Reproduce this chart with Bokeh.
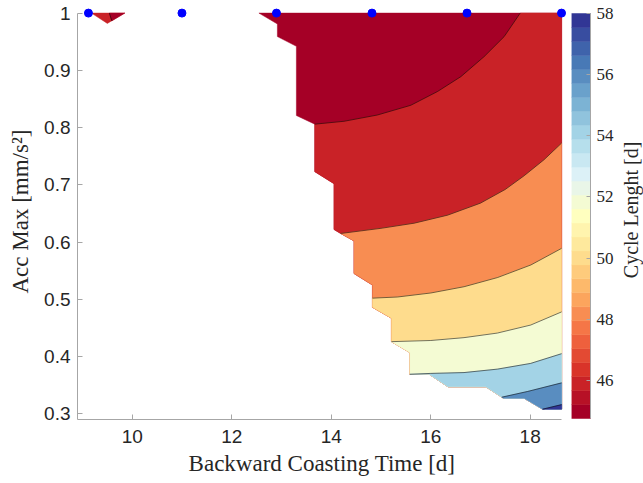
import numpy as np
from bokeh.plotting import figure
from bokeh.layouts import row
from bokeh.models import FixedTicker, Range1d, LinearAxis
from bokeh.core.properties import value
from bokeh.embed import file_html
from bokeh.resources import INLINE

# ---------------- data ----------------
# sampled backward-coasting times at Acc Max = 1 (blue markers)
marker_x = [9.12, 11.0, 12.9, 14.82, 16.73, 18.63]
marker_y = [1.0, 1.0, 1.0, 1.0, 1.0, 1.0]

# boundary of the feasible (filled) region, from top-left to bottom-right
bound_x = [12.547, 12.918, 12.918, 13.300, 13.300, 13.670, 13.670, 14.056, 14.056,
           14.190, 14.459, 14.459, 14.829, 14.829, 14.829, 15.211, 15.211, 15.580,
           15.580, 15.968, 16.350, 17.109, 17.430, 17.465, 17.879, 18.249, 18.632]
bound_y = [1.000, 0.981, 0.959, 0.942, 0.821, 0.806, 0.723, 0.702, 0.622,
           0.615, 0.602, 0.545, 0.525, 0.502, 0.486, 0.467, 0.426, 0.407,
           0.369, 0.369, 0.347, 0.347, 0.329, 0.327, 0.327, 0.308, 0.308]

# small feasible patch near the top-left
patch_x = [9.18, 9.85, 9.50]
patch_y = [1.000, 1.000, 0.982]
patch_c46_x = [9.54, 9.59]
patch_c46_y = [1.000, 0.9865]

# contour lines of Cycle Length (each starts on the boundary)
c46_x = [13.670, 14.258, 14.930, 15.600, 16.137, 16.606, 17.074, 17.477, 17.799]
c46_y = [0.806, 0.811, 0.822, 0.839, 0.863, 0.889, 0.924, 0.959, 1.000]
c48_x = [14.190, 15.000, 15.670, 16.340, 17.000, 17.500, 17.880, 18.280, 18.632]
c48_y = [0.615, 0.624, 0.633, 0.647, 0.668, 0.692, 0.716, 0.744, 0.773]
c50_x = [14.829, 15.332, 16.002, 16.672, 17.344, 18.014, 18.632]
c50_y = [0.502, 0.504, 0.511, 0.522, 0.538, 0.560, 0.589]
c52_x = [15.211, 16.000, 16.670, 17.340, 18.010, 18.632]
c52_y = [0.426, 0.428, 0.433, 0.441, 0.455, 0.478]
c54_x = [15.580, 16.000, 16.670, 17.340, 18.010, 18.632]
c54_y = [0.369, 0.3705, 0.372, 0.378, 0.388, 0.405]
c56_x = [17.430, 17.950, 18.632]
c56_y = [0.329, 0.339, 0.354]
c58_x = [18.249, 18.632]
c58_y = [0.308, 0.316]

levels = [46, 48, 50, 52, 54, 56, 58]
contours_x = [c46_x, c48_x, c50_x, c52_x, c54_x, c56_x, c58_x]
contours_y = [c46_y, c48_y, c50_y, c52_y, c54_y, c56_y, c58_y]

cbar_low, cbar_high = 44.75, 58.0
cbar_ticks = [46, 48, 50, 52, 54, 56, 58]
x_ticks = [10, 12, 14, 16, 18]
y_ticks = [0.3, 0.4, 0.5, 0.6, 0.7, 0.8, 0.9, 1.0]

# ---------------- colormap (RdYlBu, 29 steps) ----------------
anchors = ['#a50026', '#d73027', '#f46d43', '#fdae61', '#fee090', '#ffffbf',
           '#e0f3f8', '#abd9e9', '#74add1', '#4575b4', '#313695']
N = 29
anc = np.array([[int(h[i:i + 2], 16) for i in (1, 3, 5)] for h in anchors], float)
pos = np.linspace(0, 1, len(anchors))
tt = np.linspace(0, 1, N)
palette = ['#%02x%02x%02x' % tuple(int(round(np.interp(t, pos, anc[:, c]))) for c in range(3))
           for t in tt]


def level_color(v):
    i = int((v - cbar_low) / (cbar_high - cbar_low) * N)
    return palette[max(0, min(N - 1, i))]


base_color = palette[0]
axis_gray = "#a6a6a6"
text_col = "#262626"

# ---------------- layout constants (pixels) ----------------
TOP_B, BOT_B = 3, 64          # shared frame borders of both figures
FRAME_H = 483 - TOP_B - BOT_B
Y_PPU = 572.4                 # pixels per unit of Acc Max
CB_TOP_PAD, CB_BOT_PAD = 10, 1  # colorbar bar inset inside its frame
CB_PPU = (FRAME_H - CB_TOP_PAD - CB_BOT_PAD) / (cbar_high - cbar_low)

# ---------------- main figure ----------------
X_RIGHT = bound_x[-1]
Y_TOP = bound_y[0]
Y_LOW = 0.29

p = figure(width=566, height=483, x_range=Range1d(8.9, 18.73),
           y_range=Range1d(Y_LOW, Y_LOW + FRAME_H / Y_PPU),
           output_backend="svg", toolbar_location=None,
           min_border_left=77, min_border_right=0, min_border_top=TOP_B, min_border_bottom=BOT_B)
p.outline_line_color = None
p.grid.visible = False
p.background_fill_color = "white"
p.border_fill_color = "white"

B = list(zip(bound_x, bound_y))

# feasible region (lowest band)
fx = list(bound_x) + [X_RIGHT]
fy = list(bound_y) + [Y_TOP]
p.patch(fx, fy, fill_color=base_color, line_color=base_color, line_width=0.5)


def region_above(cx, cy):
    i0 = int(np.argmin([(bx - cx[0]) ** 2 + (by - cy[0]) ** 2 for bx, by in B]))
    xs, ys = list(cx), list(cy)
    if cy[-1] >= Y_TOP - 1e-9 and cx[-1] < X_RIGHT:
        xs.append(X_RIGHT)
        ys.append(Y_TOP)
    for bx, by in reversed(B[i0 + 1:]):
        xs.append(bx)
        ys.append(by)
    return xs, ys


for lev, cx, cy in zip(levels, contours_x, contours_y):
    xs, ys = region_above(cx, cy)
    col = level_color(lev)
    p.patch(xs, ys, fill_color=col, line_color=col, line_width=0.5)

# small top-left patch
p.patch(patch_x, patch_y, fill_color=level_color(46), line_color=level_color(46), line_width=0.5)
p.patch([patch_c46_x[0], patch_x[1], patch_c46_x[1]], [patch_c46_y[0], patch_y[1], patch_c46_y[1]],
        fill_color=base_color, line_color=base_color, line_width=0.5)
p.line(patch_c46_x, patch_c46_y, line_color="black", line_width=0.6, line_alpha=0.9)

for cx, cy in zip(contours_x, contours_y):
    p.line(cx, cy, line_color="black", line_width=0.6, line_alpha=0.9)

p.scatter(marker_x, marker_y, size=8, color="#0000ff")

p.xaxis.ticker = FixedTicker(ticks=x_ticks)
p.yaxis.ticker = FixedTicker(ticks=y_ticks)
p.yaxis.major_label_overrides = {1.0: "1"}
p.xaxis.bounds = (8.9, X_RIGHT)
p.yaxis.bounds = (Y_LOW, Y_TOP)
for ax in (p.xaxis[0], p.yaxis[0]):
    ax.axis_line_color = axis_gray
    ax.major_tick_line_color = axis_gray
    ax.major_tick_in = 5
    ax.major_tick_out = 0
    ax.minor_tick_line_color = None
    ax.major_label_text_font = "Liberation Sans"
    ax.major_label_text_font_size = "19px"
    ax.major_label_text_color = text_col
    ax.axis_label_text_font = "Liberation Serif"
    ax.axis_label_text_font_size = "23px"
    ax.axis_label_text_font_style = "normal"
    ax.axis_label_text_color = text_col
p.xaxis.axis_label = "Backward Coasting Time [d]"
p.yaxis.axis_label = "Acc Max [mm/s²]"
p.xaxis.major_label_standoff = 10
p.yaxis.major_label_standoff = 7
p.xaxis.axis_label_standoff = 5
p.yaxis.axis_label_standoff = 8

# ---------------- colorbar figure ----------------
BAR_W = 19
cb = figure(width=77, height=483, x_range=Range1d(0, 72),
            y_range=Range1d(cbar_low - CB_BOT_PAD / CB_PPU, cbar_high + CB_TOP_PAD / CB_PPU),
            output_backend="svg", toolbar_location=None,
            x_axis_location=None, y_axis_location=None,
            min_border_left=5, min_border_right=0, min_border_top=TOP_B, min_border_bottom=BOT_B)
cb.outline_line_color = None
cb.grid.visible = False
cb.background_fill_color = "white"
cb.border_fill_color = "white"

edges = np.linspace(cbar_low, cbar_high, N + 1)
cb.quad(left=0, right=BAR_W, bottom=edges[:-1], top=edges[1:], fill_color=palette,
        line_color=palette, line_width=0.5)

cax = LinearAxis(ticker=FixedTicker(ticks=cbar_ticks), fixed_location=BAR_W,
                 bounds=(cbar_low, cbar_high))
cax.axis_line_color = axis_gray
cax.major_tick_line_color = axis_gray
cax.major_tick_in = 4
cax.major_tick_out = 0
cax.minor_tick_line_color = None
cax.major_label_standoff = 6
cax.major_label_text_font = "Liberation Serif"
cax.major_label_text_font_size = "17px"
cax.major_label_text_color = text_col
cb.add_layout(cax, "right")

cb.text(x=[59], y=[(cbar_low + cbar_high) / 2 + 0.2],
        text=["Cycle Lenght [d]"], angle=np.pi / 2, text_align="center",
        text_baseline="middle", text_font=value("Liberation Serif"),
        text_font_size="20px", text_color=text_col)

layout = row(p, cb)
open("out.html", "w").write(file_html(layout, INLINE))
